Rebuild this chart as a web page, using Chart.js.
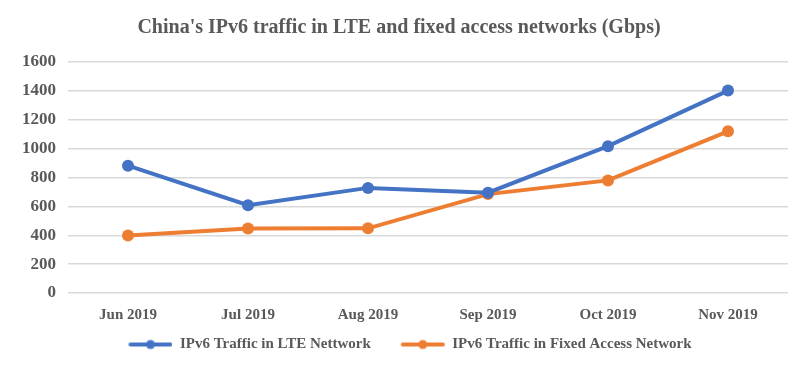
<!DOCTYPE html>
<html><head><meta charset="utf-8">
<script src="https://cdn.jsdelivr.net/npm/chart.js@4"></script>
<style>html,body{margin:0;padding:0;background:#fff}#wrap{width:810px;height:368px}</style>
</head><body><div id="wrap"><canvas id="c"></canvas></div>
<script>
const categories = ["Jun 2019","Jul 2019","Aug 2019","Sep 2019","Oct 2019","Nov 2019"];
const lteValues = [882, 608, 728, 695, 1017, 1402];
const fixedValues = [398, 446, 448, 685, 780, 1120];
const yTicks = [0,200,400,600,800,1000,1200,1400,1600];
const FONT = "'Liberation Serif', 'DejaVu Serif', serif";
const TXT = '#595959';
function legendIcon(color){
  const c=document.createElement('canvas');c.width=66;c.height=12;
  const x=c.getContext('2d');
  x.strokeStyle=color;x.lineWidth=4;x.lineCap='round';
  x.beginPath();x.moveTo(24,6);x.lineTo(64,6);x.stroke();
  x.fillStyle=color;x.beginPath();x.arc(44,6,4.5,0,Math.PI*2);x.fill();
  return c;
}
const icons=[legendIcon('#4472C4'),legendIcon('#ED7D31')];
new Chart(document.getElementById('c'),{
  type:'line',
  data:{labels:categories,datasets:[
    {label:'IPv6 Traffic in LTE Nettwork',data:lteValues,borderColor:'#4472C4',backgroundColor:'#4472C4',borderWidth:4,pointRadius:6,pointBorderWidth:0,pointHoverRadius:6,tension:0},
    {label:'IPv6 Traffic in Fixed Access Network',data:fixedValues,borderColor:'#ED7D31',backgroundColor:'#ED7D31',borderWidth:4,pointRadius:6,pointBorderWidth:0,pointHoverRadius:6,tension:0}
  ]},
  options:{
    responsive:true,maintainAspectRatio:false,animation:false,
    layout:{padding:{left:10,right:22,top:4,bottom:6}},
    plugins:{
      title:{display:true,text:"China's IPv6 traffic in LTE and fixed access networks (Gbps)",color:TXT,font:{family:FONT,size:20,weight:'bold'},padding:{top:12,bottom:22}},
      legend:{position:'bottom',labels:{usePointStyle:true,pointStyleWidth:66,boxHeight:12,color:TXT,font:{family:FONT,size:15,weight:'bold'},padding:8,
        generateLabels(chart){return chart.data.datasets.map((d,i)=>({text:d.label,pointStyle:icons[i],fillStyle:d.borderColor,strokeStyle:d.borderColor,lineWidth:0,fontColor:TXT,datasetIndex:i,hidden:false}));}
      }},
      tooltip:{enabled:false}
    },
    scales:{
      x:{offset:true,grid:{display:false},border:{display:false},ticks:{color:TXT,font:{family:FONT,size:15,weight:'bold'},padding:5}},
      y:{min:0,max:1600,afterBuildTicks(s){s.ticks=yTicks.map(v=>({value:v}));},
         grid:{color:'#d9d9d9',lineWidth:1.5,drawTicks:false},border:{display:false},
         ticks:{color:TXT,font:{family:FONT,size:17,weight:'bold'},padding:12,callback:v=>String(v)}}
    }
  }
});
</script></body></html>
